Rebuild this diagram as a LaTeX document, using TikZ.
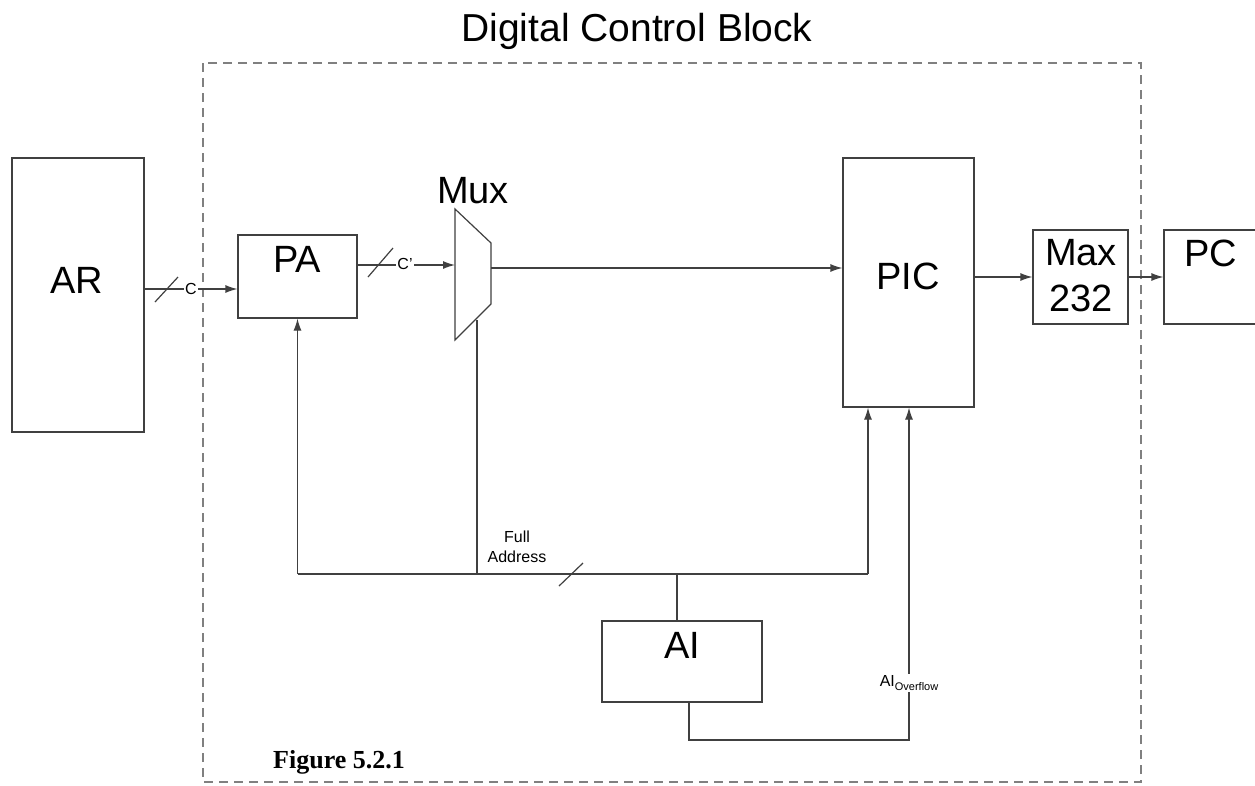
\documentclass[tikz,border=0pt]{standalone}
\usepackage{fontspec}
\setmainfont{Liberation Sans}
\newfontfamily\figfont{Liberation Serif}
\usetikzlibrary{arrows.meta}
\usetikzlibrary{positioning}

\begin{document}
\begin{tikzpicture}[x=1pt,y=-1pt,
  blk/.style={draw=black!75, line width=1.2pt, fill=white, inner sep=0pt},
  lbl/.style={inner sep=0pt, font=\fontsize{38}{46}\selectfont},
  small/.style={inner sep=1pt, fill=white, font=\fontsize{16}{20}\selectfont},
  wire/.style={draw=black!75, line width=1.2pt},
  arr/.style={wire, -{Latex[length=12pt,width=8pt]}}]
\clip (0,0) rectangle (1255,785);
\fill[white] (0,0) rectangle (1255,785);

\node[lbl, font=\fontsize{39}{47}\selectfont, anchor=base] (title) at (637,41) {Digital Control Block};
\draw[gray, line width=1.3pt, dash pattern=on 9pt off 6pt] (203,63) rectangle (1141,782);

\node[blk, minimum width=132pt, minimum height=274pt] (ar) at (78,295) {};
\node[blk, minimum width=119pt, minimum height=83pt] (pa) at (297.5,276.5) {};
\node[blk, minimum width=131pt, minimum height=249pt] (pic) at (908.5,282.5) {};
\node[blk, minimum width=95pt, minimum height=94pt] (max) at (1080.5,277) {};
\node[blk, minimum width=111pt, minimum height=94pt] (pc) at (1219.5,277) {};
\node[blk, minimum width=160pt, minimum height=81pt] (ai) at (682,661.5) {};

\node[lbl] (arT) at (77,280) {AR};
\node[lbl] (paT) at (297,259) {PA};
\node[lbl] (picT) at (908,276) {PIC};
\node[lbl, align=center] (maxT) at (1081,276) {Max\\232};
\node[lbl] (pcT) at (1211,253) {PC};
\node[lbl] (aiT) at (682,645) {AI};

% mux
\draw[wire, fill=white] (455,209) -- (491,243) -- (491,304) -- (455,340) -- cycle;
\coordinate (muxIn) at (455,265);
\coordinate (muxOut) at (491,268);
\coordinate (muxSel) at (477,320);
\node[lbl, anchor=south] (muxT) at (473,204) {Mux};

\draw[arr] (ar.east |- 0,289) -- (pa.west |- 0,289);
\draw[wire] (155,302) -- (178,277);
\node[small] (cLbl) at (191,289) {C};

\draw[arr] (pa.east |- muxIn) -- (muxIn);
\draw[wire] (368,277) -- (393,248);
\node[small] (cpLbl) at (405,264) {C'};

\draw[arr] (muxOut) -- (pic.west |- muxOut);
\draw[arr] (pic.east |- max.west) -- (max.west);
\draw[arr] (max.east) -- (pc.west |- max.east);

% full address bus
\coordinate (busL) at (pa.south |- 0,574);
\coordinate (busR) at (868,574);
\draw[wire] (busL) -- (busR);
\draw[arr] (busL) -- (pa.south);
\draw[arr] (busR) -- (busR |- pic.south);
\draw[wire] (muxSel) -- (muxSel |- busL);
\draw[wire] ([xshift=-5pt]ai.north) -- ([xshift=-5pt]ai.north |- busL);
\draw[wire] (559,586) -- (583,563);
\node[small, fill=none, align=center] (fullAddr) at (517,547) {Full\\Address};

% overflow
\coordinate (ovf) at (909,740);
\draw[arr] ([xshift=7pt]ai.south) |- (ovf) -- (ovf |- pic.south);
\node[small] (ovfLbl) at (909,683) {AI\raisebox{-4pt}{\fontsize{11}{13}\selectfont Overflow}};

\node[anchor=base west, inner sep=0pt, font=\figfont\bfseries\fontsize{26}{31}\selectfont] (figNo) at (273,768) {Figure 5.2.1};

\end{tikzpicture}
\end{document}
